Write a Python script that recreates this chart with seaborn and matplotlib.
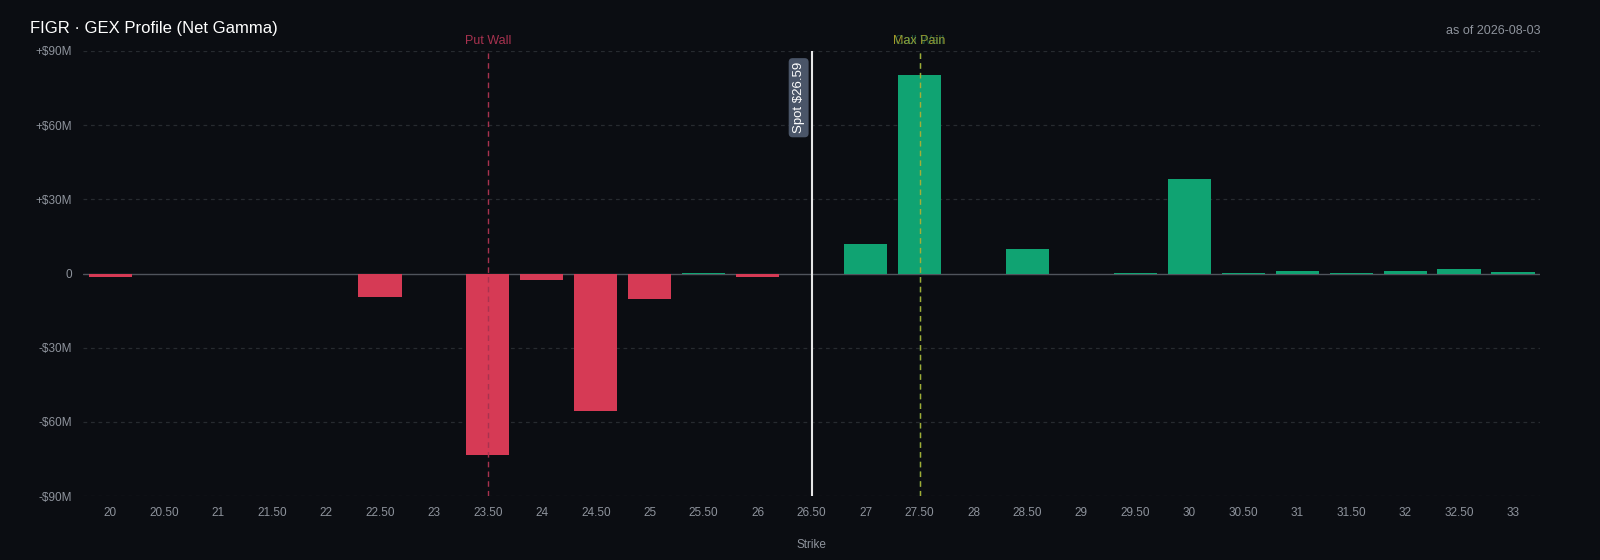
import matplotlib
matplotlib.use("Agg")
import matplotlib.pyplot as plt
import seaborn as sns
import pandas as pd

strikes = ["20", "20.50", "21", "21.50", "22", "22.50", "23", "23.50", "24", "24.50",
           "25", "25.50", "26", "26.50", "27", "27.50", "28", "28.50", "29", "29.50",
           "30", "30.50", "31", "31.50", "32", "32.50", "33"]
net_gex_m = [-1.2, -0.2, -0.3, -0.2, -0.3, -9.3, -0.3, -73.3, -2.8, -55.5,
             -10.1, 0.4, -1.2, -0.2, 12.1, 80.2, -0.2, 10.1, -0.2, 0.3,
             38.1, 0.3, 1.2, 0.2, 1.0, 2.0, 0.8]
yticks = [-90, -60, -30, 0, 30, 60, 90]
ytick_labels = ["-$90M", "-$60M", "-$30M", "0", "+$30M", "+$60M", "+$90M"]
spot_price = 26.59
spot_strike = "26.50"
put_wall = "23.50"
call_wall = "27.50"
max_pain = "27.50"
title = "FIGR · GEX Profile (Net Gamma)"
asof = "as of 2026-08-03"

BG = "#0b0d12"
RED = "#d63a55"
GREEN = "#10a372"
GRID = "#272b30"
TXT = "#8e939c"

sns.set_theme(style="dark")
plt.rcParams['font.family'] = ['Liberation Sans', 'DejaVu Sans']

df = pd.DataFrame({"strike": strikes, "gex": net_gex_m})
df["sign"] = ["pos" if v >= 0 else "neg" for v in df["gex"]]

fig = plt.figure(figsize=(16, 5.6), dpi=100, facecolor=BG)
ax = fig.add_axes([0.052, 0.114, 0.9105, 0.795])
ax.set_facecolor(BG)

sns.barplot(data=df, x="strike", y="gex", hue="sign", order=strikes,
            palette={"pos": GREEN, "neg": RED}, dodge=False, legend=False,
            width=0.8, ax=ax, saturation=1, linewidth=0, zorder=3)

ax.set_ylim(-90, 90)
ax.set_xlim(-0.5, len(strikes) - 0.5)
ax.set_yticks(yticks)
ax.set_yticklabels(ytick_labels)
for y in yticks:
    if y != 0:
        ax.axhline(y, color=GRID, lw=0.9, ls=(0, (3, 3)), zorder=1)
ax.axhline(0, color="#50545c", lw=1.0, zorder=2)

ax.tick_params(axis="both", colors=TXT, labelsize=8.5, length=0, pad=8)
ax.set_xlabel("Strike", color=TXT, fontsize=8.5, labelpad=14)
ax.set_ylabel("")
for s in ax.spines.values():
    s.set_visible(False)
ax.grid(False)

pw = strikes.index(put_wall)
cw = strikes.index(call_wall)
mp = strikes.index(max_pain)
sp = strikes.index(spot_strike)

ax.axvline(pw, color="#a8324f", lw=1.0, ls=(0, (4, 3)), zorder=4)
ax.axvline(cw, color="#2fa36b", lw=1.0, ls=(0, (4, 3)), zorder=4, alpha=0.8)
ax.axvline(mp, color="#c2b42c", lw=1.0, ls=(0, (4, 3)), zorder=4, alpha=0.8)
ax.axvline(sp, color="#e6e6e6", lw=1.5, zorder=5)

ax.text(pw, 91.5, "Put Wall", color="#a8324f", fontsize=9, ha="center", va="bottom")
ax.text(mp, 91.5, "Max Pain", color="#b5a82a", fontsize=9, ha="center", va="bottom", alpha=0.9)
ax.text(cw, 91.5, "Call Wall", color="#3aa068", fontsize=9, ha="center", va="bottom", alpha=0.45)

ax.text(sp - 0.24, 85.5, f"Spot ${spot_price:.2f}", rotation=90, color="white",
        fontsize=9.5, ha="center", va="top", zorder=6,
        bbox=dict(boxstyle="round,pad=0.3,rounding_size=0.3", fc="#4a5568", ec="none"))

fig.text(30 / 1600, 1 - 28 / 560, title, color="white", fontsize=12, ha="left", va="center")
fig.text(1540 / 1600, 1 - 31 / 560, asof, color=TXT, fontsize=9, ha="right", va="center")

fig.savefig("out.png", dpi=100, facecolor=BG)
